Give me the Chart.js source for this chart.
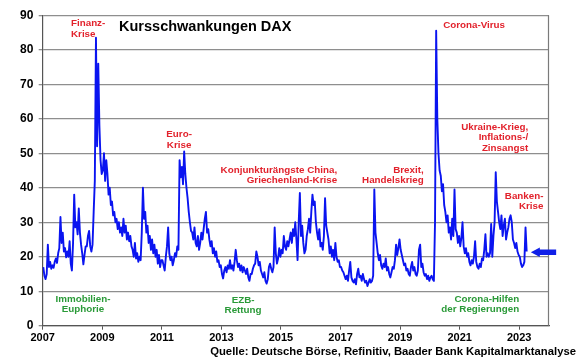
<!DOCTYPE html>
<html><head><meta charset="utf-8">
<script src="https://cdn.jsdelivr.net/npm/chart.js@4.4.1/dist/chart.umd.min.js"></script>
<style>html,body{margin:0;padding:0;background:#fff}canvas{display:block}</style>
</head><body>
<canvas id="c" width="580" height="359"></canvas>
<script>
// ---- data (VDAX-style volatility, ~2 readings per month) ----
const chartTitle = 'Kursschwankungen DAX';
const sourceText = 'Quelle: Deutsche Börse, Refinitiv, Baader Bank Kapitalmarktanalyse';
const tickYears = [2007, 2009, 2011, 2013, 2015, 2017, 2019, 2021, 2023];
const yTickValues = [0, 10, 20, 30, 40, 50, 60, 70, 80, 90];
const readingsPerYear = 26;

const v2007 = [17, 14.5, 13.5, 15, 23.5, 17, 18.5, 16.5, 17.5, 16.8, 18.5, 19.5, 18.2, 21, 22.5, 31.5, 24, 27, 21.5, 22.5, 19.8, 21.5, 20, 24.5, 18, 16];
const v2008 = [24, 38, 28.5, 30, 26.5, 34, 27, 23.5, 21, 17.8, 20.5, 23, 23, 26, 27.5, 23, 21.5, 23.5, 33, 42, 83.5, 52, 76, 58, 48, 44];
const v2009 = [45, 50, 42, 48, 44, 38, 40, 35, 36, 32, 33, 30, 31, 28, 30, 27, 28.5, 26, 31, 27, 29, 25, 27, 24.5, 26, 23];
const v2010 = [22, 20, 24, 19.5, 21, 18.5, 20, 19, 27, 40, 31, 33, 27, 29, 24, 26, 22, 25, 21, 23.5, 20, 22, 18, 20.5, 17, 19];
const v2011 = [19, 17.5, 16, 20, 23, 28.5, 21, 19, 20, 17.5, 19, 21, 20, 23, 22, 48, 43, 46, 41, 50.5, 44, 40, 37, 33, 30, 27.5];
const v2012 = [27, 25, 28.5, 24, 23, 26, 22, 24, 27, 25, 28, 31, 33, 27, 28, 25, 23, 24.5, 21, 22.5, 20, 21.5, 18.5, 19, 17, 17.5];
const v2013 = [15, 13.7, 16, 17, 15.5, 17.5, 16.5, 19, 16.5, 17.5, 16, 18.5, 22, 19, 17, 18, 16, 17.5, 15.5, 17, 16, 15, 16.5, 14, 13, 15];
const v2014 = [15, 16.5, 17.5, 18, 21.5, 20, 17.5, 18.5, 16, 15, 14, 15.5, 13, 12.2, 13.5, 17, 18, 16.5, 15.5, 17, 28.5, 21, 18, 19.5, 22.5, 20];
const v2015 = [22, 21, 26, 23, 22, 24.5, 23, 25, 27, 24, 28, 26, 30, 25, 19, 30, 38.5, 26, 29, 24, 21, 22, 26, 28, 31, 27];
const v2016 = [33, 38, 35, 36, 30, 27, 25, 28, 23, 24, 22, 26, 37, 29, 27, 25, 21, 23, 20, 22, 19, 24, 20, 18.5, 19, 17];
const v2017 = [17, 16, 15.5, 14.5, 13.5, 14.5, 13, 16, 18.5, 14, 13, 12.5, 13.5, 12, 15, 16.5, 14, 14.5, 13, 15, 13.5, 12.5, 13, 11.5, 12.5, 13.5];
const v2018 = [12.5, 13, 14.5, 39.5, 27, 24, 21, 19, 20.5, 17.5, 16.5, 18, 17, 19.5, 16, 17, 15, 14, 15.5, 17, 16.5, 19, 23.5, 20.5, 22.5, 25];
const v2019 = [22, 20.5, 19, 17.5, 18, 16, 16.5, 15, 14.5, 17, 18.5, 16, 17, 15, 14.5, 16, 22, 23.5, 17, 18, 15.5, 14.5, 15, 13.5, 14.5, 13];
const v2020 = [14, 14.5, 13.5, 13, 30, 85.5, 60, 50, 45, 43.5, 39, 41, 35, 33, 30, 32, 27, 28.5, 25, 31, 26, 39.5, 28, 27, 24, 26];
const v2021 = [23, 25.5, 30, 23, 21, 22.5, 20, 21, 18.5, 17.5, 19, 18, 20, 24.5, 18.5, 17, 16.5, 18, 17, 19.5, 19, 22, 26.5, 20, 21, 20];
const v2022 = [21, 29.5, 20, 26, 30, 44.5, 36, 33, 30, 28, 32, 26, 29, 31, 25, 27, 28.5, 31, 32, 30, 25, 24, 22.5, 24, 21.5, 20.5];
const v2023 = [20, 18, 17, 17.5, 18.5, 28.5, 21.5];

const yearlySeries = [
  [2007, v2007], [2008, v2008], [2009, v2009], [2010, v2010], [2011, v2011],
  [2012, v2012], [2013, v2013], [2014, v2014], [2015, v2015], [2016, v2016],
  [2017, v2017], [2018, v2018], [2019, v2019], [2020, v2020], [2021, v2021],
  [2022, v2022], [2023, v2023]
];

// ---- build point table for Chart.js ----
const points = [];
yearlySeries.forEach(([yr, vals]) => {
  vals.forEach((v, i) => points.push({ x: yr + (i + 0.5) / readingsPerYear, y: v }));
});

const FONT = '"Liberation Sans", Arial, Helvetica, sans-serif';
const RED = '#e2222c';
const GREEN = '#2a9a38';

// annotations anchored in data coordinates (year, value) of the first line's baseline
const notes = [
  { lines: ['Finanz-', 'Krise'], at: [2007.95, 86.8], align: 'left', color: RED },
  { lines: ['Euro-', 'Krise'], at: [2011.58, 54.6], align: 'center', color: RED },
  { lines: ['Konjunkturängste China,', 'Griechenland-Krise'], at: [2016.885, 44.4], align: 'right', color: RED },
  { lines: ['Brexit,', 'Handelskrieg'], at: [2019.79, 44.4], align: 'right', color: RED },
  { lines: ['Corona-Virus'], at: [2020.446, 86.3], align: 'left', color: RED },
  { lines: ['Ukraine-Krieg,', 'Inflations-/', 'Zinsangst'], at: [2023.30, 56.7], align: 'right', color: RED },
  { lines: ['Banken-', 'Krise'], at: [2023.815, 36.7], align: 'right', color: RED },
  { lines: ['Immobilien-', 'Euphorie'], at: [2008.354, 6.8], align: 'center', color: GREEN },
  { lines: ['EZB-', 'Rettung'], at: [2013.728, 6.7], align: 'center', color: GREEN },
  { lines: ['Corona-Hilfen', 'der Regierungen'], at: [2023.0, 6.95], align: 'right', color: GREEN }
];

const decor = {
  id: 'decor',
  beforeDatasetsDraw(chart) {
    const { ctx, chartArea: a } = chart;
    ctx.save();
    ctx.strokeStyle = '#7a7a7a';
    ctx.lineWidth = 1.2;
    ctx.beginPath();
    ctx.moveTo(a.right - 0.5, a.top);
    ctx.lineTo(a.right - 0.5, a.bottom);
    ctx.stroke();
    ctx.restore();
  },
  afterDraw(chart) {
    const { ctx } = chart;
    const xs = chart.scales.x, ys = chart.scales.y;
    ctx.save();
    // title
    ctx.font = 'bold 14.5px ' + FONT;
    ctx.fillStyle = '#000';
    ctx.textAlign = 'left';
    ctx.textBaseline = 'alphabetic';
    ctx.fillText(chartTitle, xs.getPixelForValue(2009.563), ys.getPixelForValue(85.4));
    // annotations
    ctx.font = 'bold 9.8px ' + FONT;
    notes.forEach(n => {
      ctx.fillStyle = n.color;
      ctx.textAlign = n.align;
      const px = xs.getPixelForValue(n.at[0]);
      const py = ys.getPixelForValue(n.at[1]);
      n.lines.forEach((t, i) => ctx.fillText(t, px, py + i * 10.2));
    });
    // source
    ctx.font = 'bold 11.3px ' + FONT;
    ctx.fillStyle = '#000';
    ctx.textAlign = 'right';
    ctx.fillText(sourceText, 576, 355);
    // arrow pointing at latest value
    const tip = xs.getPixelForValue(2023.39);
    const tail = xs.getPixelForValue(2024.24);
    const cy = ys.getPixelForValue(21.3);
    ctx.fillStyle = '#1020e8';
    ctx.beginPath();
    ctx.moveTo(tip, cy);
    ctx.lineTo(tip + 9, cy - 4.8);
    ctx.lineTo(tip + 9, cy - 2.8);
    ctx.lineTo(tail, cy - 2.8);
    ctx.lineTo(tail, cy + 2.8);
    ctx.lineTo(tip + 9, cy + 2.8);
    ctx.lineTo(tip + 9, cy + 4.8);
    ctx.closePath();
    ctx.fill();
    ctx.restore();
  }
};

Chart.defaults.font.family = FONT;
new Chart(document.getElementById('c'), {
  type: 'line',
  data: {
    datasets: [{
      data: points,
      borderColor: '#0a14f0',
      borderWidth: 1.9,
      borderJoinStyle: 'round',
      pointRadius: 0,
      tension: 0,
      fill: false
    }]
  },
  options: {
    responsive: false,
    animation: false,
    devicePixelRatio: 1,
    layout: { padding: { top: 15.3, right: 31, bottom: 0, left: 0 } },
    plugins: { legend: { display: false }, tooltip: { enabled: false } },
    scales: {
      x: {
        type: 'linear',
        min: 2007,
        max: 2024,
        afterBuildTicks: s => { s.ticks = tickYears.map(v => ({ value: v })); },
        afterFit: s => { s.height = 33.3; },
        grid: { drawOnChartArea: false, drawTicks: true, tickLength: 4, color: '#555' },
        border: { display: true, color: '#555', width: 1.2 },
        ticks: { color: '#000', font: { size: 11, weight: 'bold' }, padding: 2, maxRotation: 0, callback: v => String(v) }
      },
      y: {
        min: 0,
        max: 90,
        afterBuildTicks: s => { s.ticks = yTickValues.map(v => ({ value: v })); },
        afterFit: s => { s.width = 42.7; },
        grid: { color: '#8e8e8e', lineWidth: 1.3, tickLength: 4 },
        border: { display: true, color: '#555', width: 1.2 },
        ticks: { color: '#000', font: { size: 12, weight: 'bold' }, padding: 5.4, callback: v => String(v) }
      }
    }
  },
  plugins: [decor]
});
</script>
</body></html>
